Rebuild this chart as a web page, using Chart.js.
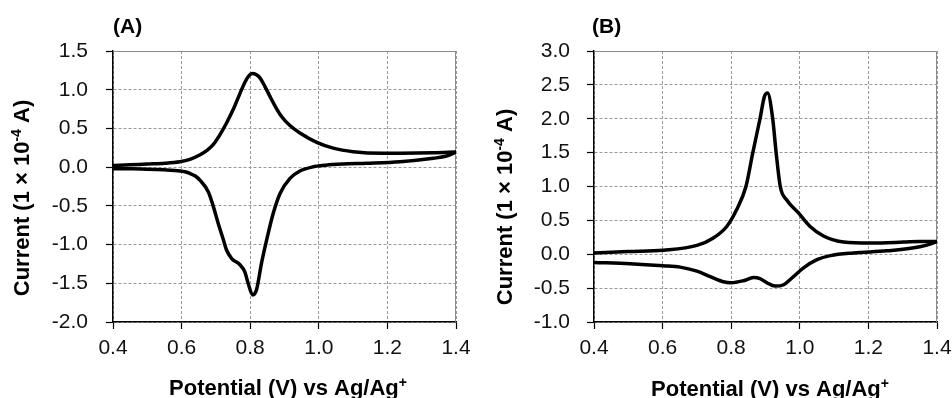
<!DOCTYPE html>
<html>
<head>
<meta charset="utf-8">
<script src="https://cdn.jsdelivr.net/npm/chart.js@4/dist/chart.umd.min.js"></script>
<style>
  html, body { margin: 0; padding: 0; background: #fff; }
  body { width: 952px; height: 398px; position: relative; overflow: hidden; }
  .wrap { position: absolute; top: 0; width: 476px; height: 398px; }
  #wa { left: 0; }
  #wb { left: 476px; }
</style>
</head>
<body>
<div class="wrap" id="wa"><canvas id="ca" width="476" height="398"></canvas></div>
<div class="wrap" id="wb"><canvas id="cb" width="476" height="398"></canvas></div>
<script>
// ---------- data ----------
const xTicks = [0.4, 0.6, 0.8, 1.0, 1.2, 1.4];
const yTicksA = [-2.0, -1.5, -1.0, -0.5, 0.0, 0.5, 1.0, 1.5];
const yTicksB = [-1.0, -0.5, 0.0, 0.5, 1.0, 1.5, 2.0, 2.5, 3.0];

// Panel A – forward (anodic) scan
const potA_fwd = [0.40,0.45,0.50,0.55,0.595,0.624,0.654,0.675,0.692,0.712,0.731,0.751,0.770,0.785,0.797,0.807,0.817,0.829,0.843,0.858,0.875,0.892,0.915,0.945,0.994,1.042,1.10,1.188,1.237,1.334,1.40];
const curA_fwd = [0.02,0.03,0.04,0.05,0.07,0.10,0.16,0.22,0.29,0.42,0.57,0.75,0.95,1.10,1.185,1.21,1.195,1.15,1.04,0.91,0.77,0.65,0.54,0.44,0.32,0.245,0.20,0.18,0.18,0.185,0.195];
// Panel A – reverse (cathodic) scan
const potA_rev = [0.40,0.45,0.50,0.55,0.596,0.61,0.624,0.64,0.654,0.678,0.692,0.707,0.722,0.731,0.746,0.770,0.784,0.794,0.807,0.818,0.833,0.848,0.867,0.887,0.916,0.945,0.98,1.02,1.07,1.14,1.237,1.334,1.37,1.40];
const curA_rev = [-0.02,-0.022,-0.026,-0.035,-0.05,-0.06,-0.08,-0.115,-0.17,-0.32,-0.50,-0.73,-0.94,-1.07,-1.18,-1.26,-1.35,-1.50,-1.65,-1.59,-1.24,-0.94,-0.60,-0.34,-0.145,-0.05,0.0,0.025,0.04,0.05,0.07,0.115,0.14,0.195];

// Panel B – forward (anodic) scan
const potB_fwd = [0.40,0.50,0.602,0.70,0.748,0.787,0.816,0.843,0.863,0.884,0.897,0.906,0.921,0.931,0.943,0.962,0.996,1.03,1.069,1.128,1.205,1.303,1.35,1.40];
const curB_fwd = [0.02,0.04,0.06,0.13,0.24,0.41,0.66,1.00,1.50,2.00,2.33,2.38,2.00,1.50,1.00,0.80,0.61,0.41,0.27,0.18,0.165,0.18,0.19,0.19];
// Panel B – reverse (cathodic) scan
const potB_rev = [0.40,0.505,0.602,0.651,0.70,0.739,0.777,0.80,0.836,0.865,0.884,0.904,0.928,0.953,0.977,1.011,1.05,1.089,1.157,1.254,1.35,1.38,1.40];
const curB_rev = [-0.12,-0.14,-0.17,-0.19,-0.25,-0.33,-0.405,-0.42,-0.39,-0.345,-0.36,-0.42,-0.47,-0.45,-0.35,-0.20,-0.08,-0.02,0.02,0.05,0.11,0.15,0.19];

const xTitle = [["Potential (V) vs Ag/Ag", false], ["+", true]];
const yTitle = [["Current (1 \u00d7 10", false], ["-4", true], [" A)", false]];

// ---------- helpers ----------
const FONT = '"Liberation Sans", Arial, sans-serif';
const pts = (xs, ys) => xs.map((x, i) => ({ x: x, y: ys[i] }));

function drawRich(ctx, parts, size, supSize, supRise) {
  let total = 0;
  const widths = parts.map(([t, sup]) => {
    ctx.font = 'bold ' + (sup ? supSize : size) + 'px ' + FONT;
    const w = ctx.measureText(t).width;
    total += w;
    return w;
  });
  let x = -total / 2;
  parts.forEach(([t, sup], i) => {
    ctx.font = 'bold ' + (sup ? supSize : size) + 'px ' + FONT;
    ctx.fillText(t, x, sup ? -supRise : 0);
    x += widths[i];
  });
}

const deco = {
  id: 'deco',
  beforeDatasetsDraw(chart, args, o) {
    const { ctx, chartArea: a } = chart;
    ctx.save();
    ctx.strokeStyle = '#8a8a8a';
    ctx.lineWidth = 1;
    ctx.beginPath();
    ctx.moveTo(a.left, a.top + 0.5);
    ctx.lineTo(a.right - 0.5, a.top + 0.5);
    ctx.lineTo(a.right - 0.5, a.bottom);
    ctx.stroke();
    ctx.restore();
  },
  afterDraw(chart, args, o) {
    const { ctx } = chart;
    ctx.save();
    ctx.fillStyle = '#000';
    ctx.textBaseline = 'alphabetic';
    ctx.textAlign = 'left';
    ctx.font = 'bold 21px ' + FONT;
    ctx.fillText(o.panel, o.panelX, 33);
    ctx.save();
    ctx.translate(o.xTitleX, o.xTitleY);
    drawRich(ctx, xTitle, 22, 14, 8);
    ctx.restore();
    ctx.save();
    ctx.translate(o.yTitleX, o.yTitleY);
    ctx.rotate(-Math.PI / 2);
    drawRich(ctx, yTitle, 22, 14, 8);
    ctx.restore();
    ctx.restore();
  }
};

function makeChart(id, cfg) {
  const line = (data) => ({
    data: data,
    showLine: true,
    borderColor: '#000',
    borderWidth: 3.5,
    pointRadius: 0,
    pointHoverRadius: 0,
    cubicInterpolationMode: 'monotone',
    fill: false
  });
  return new Chart(document.getElementById(id), {
    type: 'scatter',
    data: { datasets: [line(cfg.fwd), line(cfg.rev)] },
    plugins: [deco],
    options: {
      responsive: false,
      animation: false,
      events: [],
      layout: { padding: { top: 51, right: cfg.padRight, left: 0, bottom: 0 } },
      plugins: {
        legend: { display: false },
        tooltip: { enabled: false },
        title: { display: false },
        deco: cfg.deco
      },
      scales: {
        x: {
          type: 'linear',
          min: 0.4, max: 1.4,
          afterBuildTicks: s => { s.ticks = xTicks.map(v => ({ value: v })); },
          afterFit: s => { s.height = 76; s.paddingLeft = 0; s.paddingRight = 0; },
          ticks: {
            color: '#111',
            font: { family: FONT, size: 21 },
            padding: 7,
            maxRotation: 0,
            autoSkip: false,
            callback: v => Number(v).toFixed(1)
          },
          grid: { color: '#9a9a9a', lineWidth: 1, tickColor: '#000', tickLength: 7, tickWidth: 1.2 },
          border: { display: true, color: '#000', width: 1.5, dash: [3, 2] }
        },
        y: {
          type: 'linear',
          min: cfg.yMin, max: cfg.yMax,
          afterBuildTicks: s => { s.ticks = cfg.yTicks.map(v => ({ value: v })); },
          afterFit: s => { s.width = cfg.yWidth; s.paddingTop = 0; s.paddingBottom = 0; },
          ticks: {
            color: '#111',
            font: { family: FONT, size: 21 },
            padding: cfg.yPad,
            autoSkip: false,
            callback: v => Number(v).toFixed(1)
          },
          grid: { color: '#9a9a9a', lineWidth: 1, tickColor: '#000', tickLength: 7, tickWidth: 1.2 },
          border: { display: true, color: '#000', width: 1.5, dash: [3, 2] }
        }
      }
    }
  });
}

makeChart('ca', {
  fwd: pts(potA_fwd, curA_fwd),
  rev: pts(potA_rev, curA_rev),
  yMin: -2.0, yMax: 1.5, yTicks: yTicksA,
  yWidth: 113, yPad: 18, padRight: 20,
  deco: { panel: '(A)', panelX: 113, xTitleX: 288, xTitleY: 395, yTitleX: 29, yTitleY: 198 }
});
makeChart('cb', {
  fwd: pts(potB_fwd, curB_fwd),
  rev: pts(potB_rev, curB_rev),
  yMin: -1.0, yMax: 3.0, yTicks: yTicksB,
  yWidth: 118, yPad: 17, padRight: 15,
  deco: { panel: '(B)', panelX: 116, xTitleX: 294, xTitleY: 396, yTitleX: 36, yTitleY: 207 }
});
</script>
</body>
</html>
